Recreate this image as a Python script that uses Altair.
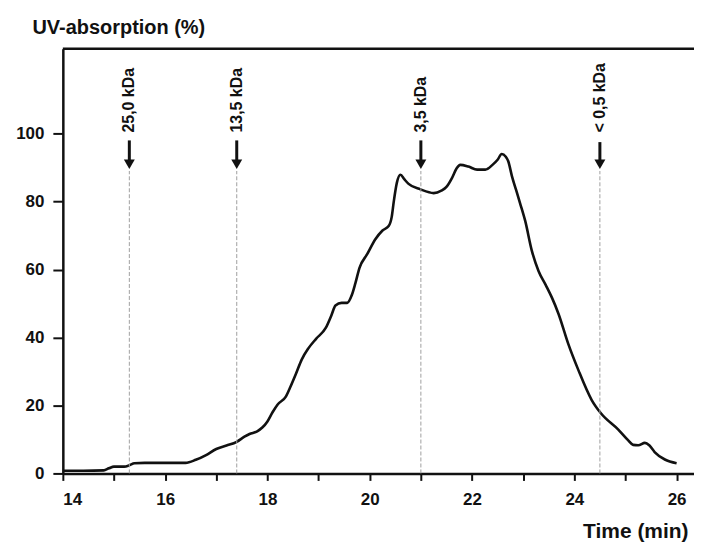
import altair as alt
import pandas as pd

# Elution curve (time in min, UV absorption in %)
time_min = [14.0, 14.4, 14.8, 14.9, 15.0, 15.2, 15.3, 15.4, 15.6, 16.0, 16.4, 16.6, 16.8,
            17.0, 17.2, 17.4, 17.55, 17.65, 17.8, 17.9, 18.0, 18.1, 18.2, 18.36, 18.45,
            18.56, 18.67, 18.8, 18.95, 19.14, 19.25, 19.33, 19.45, 19.56, 19.65, 19.72,
            19.8, 19.95, 20.11, 20.25, 20.37, 20.43, 20.47, 20.53, 20.6, 20.68, 20.76,
            20.99, 21.25, 21.4, 21.5, 21.61, 21.7, 21.77, 21.93, 22.1, 22.26, 22.4, 22.5,
            22.58, 22.66, 22.71, 22.78, 22.86, 22.94, 23.04, 23.17, 23.3, 23.44, 23.56,
            23.69, 23.88, 24.08, 24.34, 24.52, 24.86, 25.05, 25.15, 25.25, 25.38, 25.47,
            25.57, 25.77, 26.0]
uv_abs = [0.8, 0.8, 0.9, 1.5, 2.0, 2.0, 2.4, 3.0, 3.1, 3.1, 3.1, 4.0, 5.4,
          7.2, 8.2, 9.3, 10.8, 11.6, 12.4, 13.5, 15.3, 18.0, 20.3, 22.6, 25.5,
          29.4, 33.5, 36.8, 39.6, 42.8, 46.5, 49.4, 50.2, 50.2, 52.5, 56.0,
          60.5, 64.5, 68.9, 71.5, 72.8, 75.5, 80.0, 85.5, 87.9, 86.5, 85.2,
          83.6, 82.5, 83.2, 84.3, 87.0, 89.8, 90.8, 90.3, 89.4, 89.4, 90.8, 92.3,
          94.0, 93.2, 91.8, 87.5, 83.5, 79.5, 74.3, 65.5, 59.6, 55.5, 51.8,
          47.0, 38.2, 30.4, 21.6, 17.7, 12.9, 9.8, 8.4, 8.3, 9.0, 8.2,
          6.3, 4.1, 3.0]

# Molecular-weight markers
marker_time = [15.3, 17.4, 21.0, 24.5]
marker_label = ["25,0 kDa", "13,5 kDa", "3,5 kDa", "< 0,5 kDa"]
shaft_top = [98.0, 98.0, 98.0, 97.5]
shaft_bottom = [92.0, 92.0, 92.0, 92.0]
head_y = [91.0, 91.0, 91.0, 91.0]
guide_top = [89.0, 89.0, 89.0, 89.0]
label_y = [100.3, 100.3, 100.3, 100.3]

FONT = "Liberation Sans"
X_DOMAIN = [14, 26.34]
Y_DOMAIN = [0, 125]

curve = pd.DataFrame({"t": time_min, "uv": uv_abs})
markers = pd.DataFrame({
    "t": marker_time, "label": marker_label, "top": shaft_top,
    "bottom": shaft_bottom, "head": head_y, "guide": guide_top, "ly": label_y,
    "zero": [0] * len(marker_time),
})
frame = pd.DataFrame({"ymax": [Y_DOMAIN[1]]})

x_scale = alt.Scale(domain=X_DOMAIN, nice=False, zero=False)
y_scale = alt.Scale(domain=Y_DOMAIN, nice=False)

x_axis = alt.Axis(
    values=list(range(14, 27)),
    labelExpr="datum.value % 2 == 0 ? datum.label : ''",
    title="Time (min)",
    titleAngle=0, titleAlign="right", titleBaseline="alphabetic",
    titleX=627, titleY=64, titleFontSize=21, titleFont=FONT, titleFontWeight="bold",
    titleColor="#111",
    labelFont=FONT, labelFontSize=17, labelFontWeight="bold", labelColor="#111",
    labelPadding=11, tickSize=7, tickWidth=2, tickColor="#111",
    domainColor="#111", domainWidth=2.5, grid=False,
)
y_axis = alt.Axis(
    values=[0, 20, 40, 60, 80, 100],
    title="UV-absorption (%)",
    titleAngle=0, titleAlign="left", titleBaseline="alphabetic",
    titleX=-31, titleY=-15, titleFontSize=20, titleFont=FONT, titleFontWeight="bold",
    titleColor="#111",
    labelFont=FONT, labelFontSize=17, labelFontWeight="bold", labelColor="#111",
    labelPadding=9, tickSize=10, tickWidth=2, tickColor="#111",
    domainColor="#111", domainWidth=2.5, grid=False,
)


def X(field):
    return alt.X(field, type="quantitative", scale=x_scale, axis=x_axis)


def Y(field):
    return alt.Y(field, type="quantitative", scale=y_scale, axis=y_axis)


line = alt.Chart(curve).mark_line(
    color="#111", strokeWidth=2.6, interpolate="monotone"
).encode(x=X("t"), y=Y("uv"))

guides = alt.Chart(markers).mark_rule(
    color="#a0a0a0", strokeWidth=1, strokeDash=[4, 2]
).encode(x=X("t"), y=Y("zero"), y2="guide:Q")

shafts = alt.Chart(markers).mark_rule(color="#111", strokeWidth=3).encode(
    x=X("t"), y=Y("top"), y2="bottom:Q"
)

heads = alt.Chart(markers).mark_point(
    shape="triangle-down", filled=True, color="#111", size=120, opacity=1
).encode(x=X("t"), y=Y("head"))

labels = alt.Chart(markers).mark_text(
    angle=270, align="left", baseline="middle", font=FONT, fontSize=16,
    fontWeight="bold", color="#111"
).encode(x=X("t"), y=Y("ly"), text="label:N")

# top frame line across the full plot width
top_frame = alt.Chart(frame).mark_rule(color="#111", strokeWidth=2.5).encode(
    y=Y("ymax")
)

chart = alt.layer(line, guides, shafts, heads, labels, top_frame).properties(
    width=633, height=426,
    autosize=alt.AutoSizeParams(type="none"),
    padding={"left": 55, "top": 40, "right": 0, "bottom": 68},
    background="white",
).configure_view(stroke=None)

chart.save("out.html", embed_options={"renderer": "svg", "actions": False})
